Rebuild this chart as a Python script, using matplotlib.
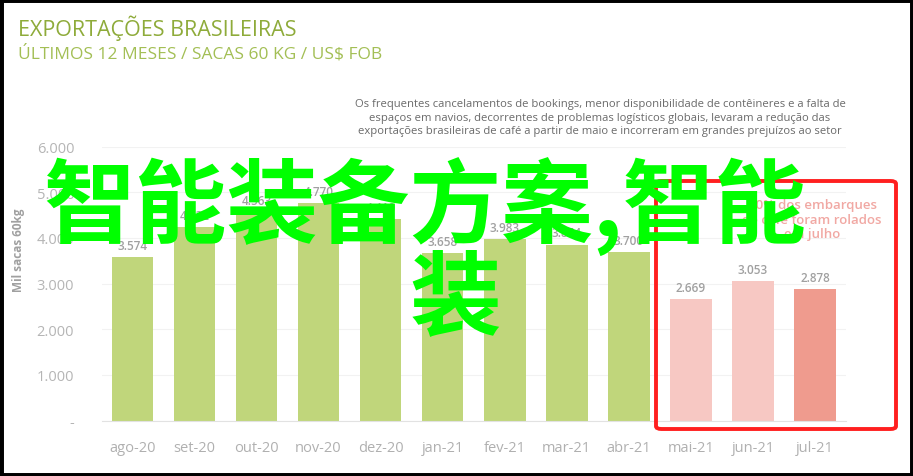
import matplotlib
matplotlib.use("Agg")
import matplotlib.pyplot as plt
from matplotlib.patches import FancyBboxPatch, Rectangle

months = ["ago-20", "set-20", "out-20", "nov-20", "dez-20", "jan-21",
          "fev-21", "mar-21", "abr-21", "mai-21", "jun-21", "jul-21"]
values = [3574, 4232, 4563, 4770, 4410, 3658, 3983, 3854, 3700, 2669, 3053, 2878]
value_labels = ["3.574", "4.232", "4.563", "4.770", "4.410", "3.658",
                "3.983", "3.854", "3.700", "2.669", "3.053", "2.878"]
bar_colors = ["#c0d67b"] * 9 + ["#f7c8c3", "#f7c8c3", "#ef9b8e"]
yticks = [0, 1000, 2000, 3000, 4000, 5000, 6000]
ytick_labels = ["-", "1.000", "2.000", "3.000", "4.000", "5.000", "6.000"]

title = "EXPORTAÇÕES BRASILEIRAS"
subtitle = "ÚLTIMOS 12 MESES / SACAS 60 KG / US$ FOB"
note = ("Os frequentes cancelamentos de bookings, menor disponibilidade de contêineres e a falta de\n"
        "espaços em navios, decorrentes de problemas logísticos globais, levaram a redução das\n"
        "exportações brasileiras de café a partir de maio e incorreram em grandes prejuízos ao setor")
red_note = "50% dos embarques\nde café foram rolados\nem julho"
overlay_line1 = "智能装备方案,智能"
overlay_line2 = "装"

plt.rcParams['font.family'] = ['Open Sans', 'DejaVu Sans']

fig = plt.figure(figsize=(9.13, 4.77), dpi=100)
fig.patch.set_facecolor("white")
ax = fig.add_axes([102/913, 1-421.5/477, (846-102)/913, (421.5-147.5)/477])

x = list(range(len(months)))
ax.bar(x, values, width=0.67, color=bar_colors, zorder=2)
for xi, v, lab in zip(x, values, value_labels):
    ax.text(xi, v + 110, lab, ha="center", va="bottom", fontsize=8.5,
            color="#a0a0a0", fontweight="semibold", zorder=3)

ax.set_xlim(-0.49, 11.5)
ax.set_ylim(0, 6000)
ax.set_yticks(yticks)
ax.set_yticklabels(ytick_labels)
ax.set_xticks(x)
ax.set_xticklabels(months)
ax.tick_params(axis="both", length=0, colors="#b5b5b5", labelsize=10.5)
ax.tick_params(axis="x", pad=14)
ax.tick_params(axis="y", pad=20)
for lbl in ax.get_yticklabels():
    lbl.set_color("#b5b5b5")
for lbl in ax.get_xticklabels():
    lbl.set_color("#b0b0b0")
ax.grid(axis="y", color="#f2f2f2", linewidth=0.8, zorder=0)
for s in ["top", "right", "left"]:
    ax.spines[s].set_visible(False)
ax.spines["bottom"].set_color("#e2e2e2")
ax.set_ylabel("Mil sacas 60kg", fontsize=8.5, color="#a0a0a0", fontweight="bold")
ax.yaxis.set_label_coords(-0.104, 0.626)

fig.text(18/913, 1-28/477, title, fontsize=15.5, color="#8eab3a", va="center", ha="left")
fig.text(18/913, 1-54/477, subtitle, fontsize=12.5, color="#a3bf55", va="center", ha="left")
fig.text(600/913, 1-118/477, note, fontsize=8.1, color="#6a6a6a", ha="center", va="center",
         linespacing=1.3)
fig.text(812/913, 1-220/477, red_note, fontsize=9.5, color="#f1a8a3", ha="center", va="center",
         fontweight="semibold", linespacing=1.15)

box = FancyBboxPatch((656/913, 1-430/477), (896-656)/913, (430-182)/477,
                     boxstyle="round,pad=0,rounding_size=0.006", transform=fig.transFigure,
                     fill=False, edgecolor="#ff1f1f", linewidth=2.8, zorder=5)
fig.patches.append(box)

cjk = ['Noto Sans CJK SC', 'DejaVu Sans']
fig.text(425/913, 1-207/477, overlay_line1, fontsize=66, color="#00ff00", ha="center",
         va="center", fontweight="bold", family=cjk, zorder=10)
fig.text(455/913, 1-300/477, overlay_line2, fontsize=66, color="#00ff00", ha="center",
         va="center", fontweight="bold", family=cjk, zorder=10)

frame = Rectangle((0, 0), 1, 1, transform=fig.transFigure, fill=False,
                  edgecolor="black", linewidth=5, zorder=20)
fig.patches.append(frame)

fig.savefig("out.png", dpi=100, facecolor="white")
